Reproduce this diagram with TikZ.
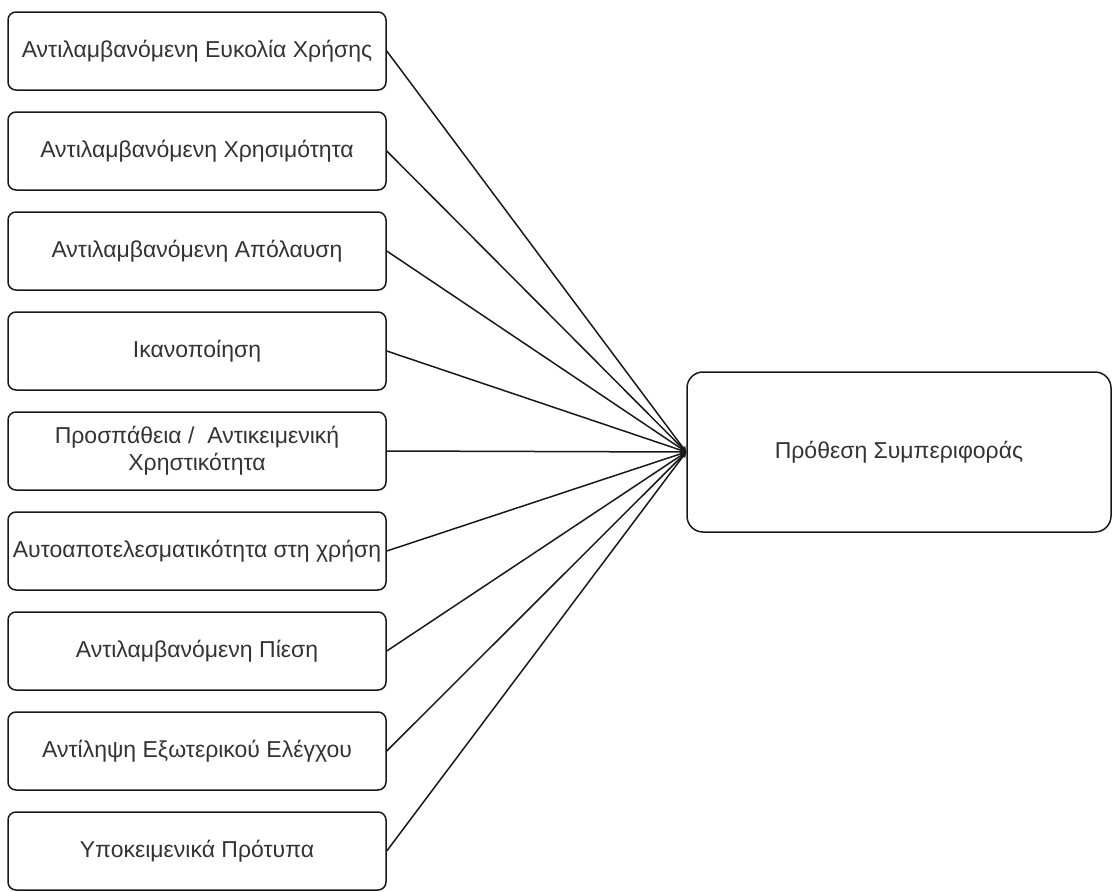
\documentclass[tikz,border=0pt]{standalone}
\usepackage{fontspec}
\setmainfont{Liberation Sans}
\usetikzlibrary{positioning}
\usetikzlibrary{arrows}
\definecolor{boxline}{rgb}{0.1,0.1,0.1}
\definecolor{boxtext}{rgb}{0.2,0.2,0.2}

\begin{document}
\begin{tikzpicture}[
            x = 1pt, y = 1pt,
            > = stealth, % arrow head style
            node distance = 100pt, % distance between boxes
            line width = 1.5pt % line style
        ]

        \tikzstyle{factor}=[
            draw = boxline,
            rounded corners = 8pt,
            text = boxtext,
            font = \fontsize{23}{27}\selectfont,
            align = center,
            inner sep = 1pt,
            minimum width = 378pt,
            minimum height = 78pt
        ]
        \tikzstyle{target}=[
            factor,
            rounded corners = 16pt,
            minimum width = 424pt,
            minimum height = 160pt
        ]

        \useasboundingbox (0,0) rectangle (1112,-892);

	% factors
        \node[factor] (F1) at (197,-51) {Αντιλαμβανόμενη Ευκολία Χρήσης};
        \node[factor] (F2) [below of=F1] {Αντιλαμβανόμενη Χρησιμότητα};
        \node[factor] (F3) [below of=F2] {Αντιλαμβανόμενη Απόλαυση};
        \node[factor] (F4) [below of=F3] {Ικανοποίηση};
        \node[factor] (F5) [below of=F4] {Προσπάθεια /\ \ Αντικειμενική\\Χρηστικότητα};
        \node[factor] (F6) [below of=F5] {Αυτοαποτελεσματικότητα στη χρήση};
        \node[factor] (F7) [below of=F6] {Αντιλαμβανόμενη Πίεση};
        \node[factor] (F8) [below of=F7] {Αντίληψη Εξωτερικού Ελέγχου};
        \node[factor] (F9) [below of=F8] {Υποκειμενικά Πρότυπα};

         % intention
         \node[target] (BI) at (899,-452) {Πρόθεση Συμπεριφοράς};

         \foreach \f in {F1,F2,F3,F4,F5,F6,F7,F8,F9}
             \draw[->, boxline] (\f.east) -- (BI.west);

  \end{tikzpicture}
\end{document}
